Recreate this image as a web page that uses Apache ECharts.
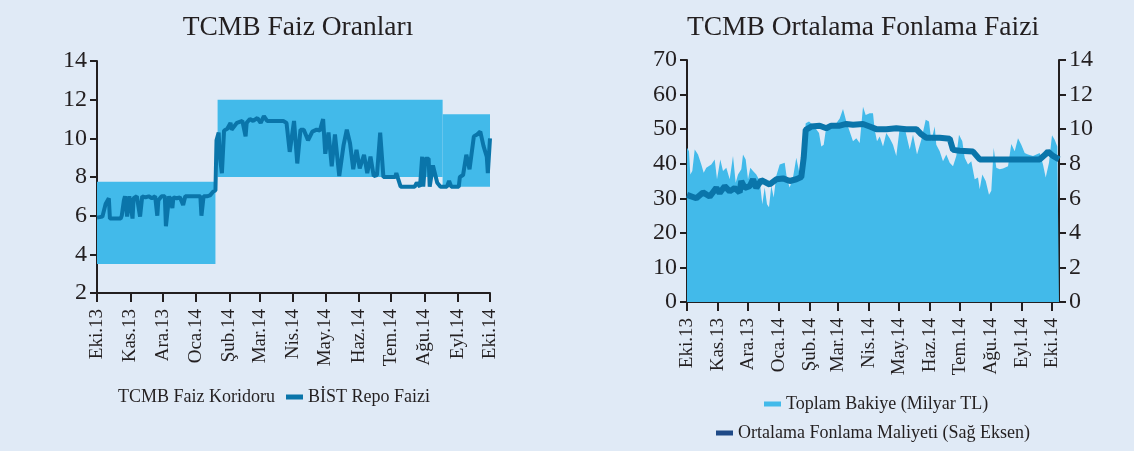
<!DOCTYPE html>
<html><head><meta charset="utf-8">
<script src="https://cdn.jsdelivr.net/npm/echarts@6/dist/echarts.min.js"></script>
<style>html,body{margin:0;padding:0;background:#E0EAF6;}#c{width:1134px;height:451px;}</style>
</head><body><div id="c"></div>
<script>
// ---- data ----
const monthLabels = ['Eki.13','Kas.13','Ara.13','Oca.14','Şub.14','Mar.14','Nis.14','May.14','Haz.14','Tem.14','Ağu.14','Eyl.14','Eki.14'];
const monthDays = [0,31,61,92,123,151,182,212,243,273,304,335,365]; // days since 1 Oct 2013
const leftTicks = [2,4,6,8,10,12,14];

// TCMB corridor: [startDay, endDay, low, high]
const corridorStart = [0,112,321];
const corridorEnd = [110,321,365];
const corridorLow = [3.5,8,7.5];
const corridorHigh = [7.75,12,11.25];

// BİST repo rate: [day, %]
const repoRate = [[0,5.9],[5,5.95],[8,6.6],[11,6.9],[12,5.85],[16,5.85],[22,5.85],[23,6.0],[25,6.8],[26,7.0],[28,5.95],[30,7.0],[33,5.85],[34,6.9],[37,7.0],[40,5.95],[42,7.0],[45,6.95],[48,7.0],[51,6.9],[54,7.0],[56,6.0],[57,6.8],[60,7.0],[63,7.0],[64,5.45],[67,7.0],[70,6.4],[71,6.95],[74,6.9],[77,6.95],[80,6.55],[82,7.0],[87,7.0],[96,7.0],[97,6.0],[99,7.0],[102,7.0],[105,7.05],[108,7.25],[110,7.3],[111,9.9],[113,10.3],[114,9.1],[116,8.2],[118,10.4],[121,10.5],[124,10.8],[125,10.45],[130,10.8],[135,10.9],[138,10.1],[139,10.8],[142,11.0],[145,10.9],[149,11.05],[152,10.8],[155,11.15],[158,10.9],[162,10.9],[173,10.9],[176,10.8],[179,9.3],[183,10.9],[186,8.7],[189,10.45],[192,10.45],[196,9.9],[200,10.35],[204,10.45],[207,10.4],[210,11.0],[212,9.2],[215,10.3],[218,8.55],[221,10.2],[225,8.05],[229,9.65],[232,10.45],[235,9.75],[238,8.4],[241,9.4],[244,8.45],[248,9.15],[251,8.2],[254,9.05],[257,8.05],[260,8.1],[263,10.3],[266,8.0],[277,8.0],[278,8.2],[282,7.5],[295,7.5],[297,7.7],[300,7.5],[302,9.05],[303,7.5],[305,8.95],[308,8.95],[309,7.5],[312,8.6],[316,7.7],[319,7.5],[325,7.5],[327,7.8],[329,7.5],[336,7.5],[337,8.0],[340,8.1],[343,9.15],[346,8.4],[350,10.1],[353,10.2],[356,10.35],[359,9.6],[362,9.05],[363,8.2],[365,10.0]];

// Right chart
const rightLastDay = 372;
const rightLeftTicks = [0,10,20,30,40,50,60,70];
const rightRightTicks = [0,2,4,6,8,10,12,14];
// Toplam Bakiye (Milyar TL): [day, value]
const totalBalance = [[0,44.6],[2,43.6],[3.3,36.9],[5.3,37.9],[7.7,44.1],[11,42.7],[14.3,39.8],[16.7,37.4],[19.3,38.8],[24.3,39.8],[27.7,41.2],[30,35.5],[33.3,41.2],[36,37.9],[39.3,38.8],[42.7,35.5],[46,42.2],[48.7,34.5],[51,36.9],[54.3,38.4],[56,42.7],[58.7,41.2],[61,35.5],[63.3,38.8],[66,37.9],[69.3,36.9],[72.7,35.0],[75.3,28.3],[77.7,33.1],[80,28.3],[82,27.4],[84.3,33.6],[86.7,30.2],[89.3,36.5],[92.7,39.8],[97.7,40.3],[100,35.5],[102.7,33.1],[106,36.0],[109.3,41.7],[112.7,36.9],[116,40.3],[118.7,51.7],[122,52.2],[126,51.2],[132,48.9],[134.3,45.0],[136.7,45.5],[139.3,50.8],[144.3,51.2],[149.3,51.7],[152.7,53.1],[156,55.8],[159.3,52.2],[162.7,49.3],[166,46.5],[169.3,47.4],[172.7,46.0],[176,56.5],[178.7,54.1],[182.7,54.6],[186,54.6],[187.7,49.8],[190,46.5],[192.7,47.9],[196,45.0],[199.3,48.9],[202.7,47.4],[206,45.5],[209.3,42.2],[212.7,50.3],[217.7,50.3],[222.7,44.1],[226,48.4],[230,42.7],[234.3,46.9],[238.7,52.7],[242,52.2],[244.3,46.5],[247.7,50.8],[249.3,45.5],[252.7,43.6],[256,40.7],[259.3,42.7],[262.7,40.3],[266,39.3],[269.3,42.2],[272,48.4],[275.3,46.5],[277.7,41.7],[281,39.8],[284.3,40.7],[287.7,35.5],[291,36.0],[292.7,32.6],[295.3,36.9],[298.7,35.0],[302,31.0],[304.3,32.2],[306.7,44.6],[309.3,38.8],[312.7,38.4],[316,38.6],[321,39.3],[324.3,45.7],[327.7,43.6],[331,47.4],[334.3,45.5],[337.7,43.1],[341,42.7],[346,42.2],[352.7,43.1],[356,39.8],[358.7,36.0],[362,40.3],[365,48.2],[367.7,46.9],[370.3,45.0],[372,44.6]];
// Ortalama Fonlama Maliyeti (%): [day, value]
const fundingCost = [[0,6.2],[9.3,6.0],[16,6.34],[22.7,6.1],[29.3,6.6],[32.7,6.3],[37.7,6.7],[42.7,6.4],[47.7,6.6],[52.7,6.34],[54.3,7.0],[57.7,6.6],[62.7,6.7],[66,7.1],[69.3,6.6],[74.3,7.05],[79.3,6.9],[82.7,6.8],[89.3,7.1],[96,7.15],[102.7,7.0],[109.3,7.1],[114.3,7.23],[116.7,8.35],[118.7,9.96],[124.3,10.15],[132.7,10.2],[139.3,10.05],[144.3,10.2],[152.7,10.2],[159.3,10.3],[166,10.25],[176,10.3],[182.7,10.15],[189.3,10.0],[199.3,10.0],[209.3,10.05],[219.3,10.0],[229.3,10.0],[234.3,9.7],[239.3,9.5],[252.7,9.5],[262.7,9.45],[266,8.8],[272.7,8.75],[286,8.7],[292.7,8.25],[309.3,8.25],[326,8.25],[352.7,8.25],[357.7,8.5],[361,8.7],[366,8.45],[372,8.25]];

// ---- style ----
const FONT = 'Liberation Serif';
const TXT = '#231F20';
const BAND = '#42BAEA';
const LINE = '#0A75AA';
const NAVY = '#1F4A87';

const monthLabel = v => { const i = monthDays.indexOf(Math.round(v)); return i >= 0 ? monthLabels[i] : ''; };
function xAxisCfg(grid, max) {
  return {
    gridIndex: grid, type: 'value', min: 0, max: max,
    axisLine: { onZero: false, lineStyle: { color: TXT, width: 2 } },
    axisTick: { customValues: monthDays, length: 9, lineStyle: { color: TXT, width: 2 } },
    axisLabel: { customValues: monthDays, rotate: 90, margin: 16, formatter: monthLabel,
      fontFamily: FONT, fontSize: 19, color: TXT },
    splitLine: { show: false }
  };
}
function yAxisCfg(grid, ticks, pos) {
  return {
    gridIndex: grid, type: 'value', position: pos,
    min: ticks[0], max: ticks[ticks.length - 1], interval: ticks[1] - ticks[0],
    axisLine: { show: true, lineStyle: { color: TXT, width: 2 } },
    axisTick: { show: true, length: 7, lineStyle: { color: TXT, width: 2 } },
    axisLabel: { margin: 10, fontFamily: FONT, fontSize: 24, color: TXT },
    splitLine: { show: false }
  };
}

const corridorAreas = corridorStart.map((s, i) => [
  { xAxis: s, yAxis: corridorLow[i] }, { xAxis: corridorEnd[i], yAxis: corridorHigh[i] }
]);

const legendText = { fontFamily: FONT, fontSize: 18, color: TXT };
const titleText = { fontFamily: FONT, fontSize: 27.5, fontWeight: 'normal', color: TXT };
const option = {
  backgroundColor: '#E0EAF6',
  animation: false,
  title: [
    { text: 'TCMB Faiz Oranları', left: 293, top: 9, textAlign: 'center', textStyle: titleText },
    { text: 'TCMB Ortalama Fonlama Faizi', left: 858, top: 9, textAlign: 'center', textStyle: titleText }
  ],
  grid: [
    { left: 97, right: 644, top: 61, bottom: 158 },
    { left: 687, right: 75, top: 60, bottom: 149 }
  ],
  xAxis: [ xAxisCfg(0, 365), xAxisCfg(1, rightLastDay) ],
  yAxis: [ yAxisCfg(0, leftTicks, 'left'), yAxisCfg(1, rightLeftTicks, 'left'), yAxisCfg(1, rightRightTicks, 'right') ],
  legend: [
    { left: 91, top: 383, icon: 'rect', itemWidth: 17, itemHeight: 5, itemGap: 11, textStyle: legendText,
      data: [ { name: 'TCMB Faiz Koridoru', itemStyle: { opacity: 0 } },
              { name: 'BİST Repo Faizi', itemStyle: { color: LINE } } ] },
    { left: 759, top: 390, icon: 'rect', itemWidth: 17, itemHeight: 5, textStyle: legendText,
      data: [ { name: 'Toplam Bakiye (Milyar TL)', itemStyle: { color: BAND } } ] },
    { left: 711, top: 419, icon: 'rect', itemWidth: 17, itemHeight: 5, textStyle: legendText,
      data: [ { name: 'Ortalama Fonlama Maliyeti (Sağ Eksen)', itemStyle: { color: NAVY } } ] }
  ],
  series: [
    { name: 'TCMB Faiz Koridoru', type: 'line', xAxisIndex: 0, yAxisIndex: 0, data: [],
      color: BAND,
      markArea: { silent: true, itemStyle: { color: BAND, opacity: 1 }, data: corridorAreas } },
    { name: 'BİST Repo Faizi', type: 'line', xAxisIndex: 0, yAxisIndex: 0, data: repoRate,
      showSymbol: false, color: LINE, lineStyle: { color: LINE, width: 4 } },
    { name: 'Toplam Bakiye (Milyar TL)', type: 'line', xAxisIndex: 1, yAxisIndex: 1, data: totalBalance,
      showSymbol: false, color: BAND, lineStyle: { width: 0 }, areaStyle: { color: BAND, opacity: 1 } },
    { name: 'Ortalama Fonlama Maliyeti (Sağ Eksen)', type: 'line', xAxisIndex: 1, yAxisIndex: 2, data: fundingCost,
      showSymbol: false, color: LINE, lineStyle: { color: LINE, width: 6 } }
  ]
};
const chart = echarts.init(document.getElementById('c'), null, { renderer: 'canvas' });
chart.setOption(option);
</script></body></html>
